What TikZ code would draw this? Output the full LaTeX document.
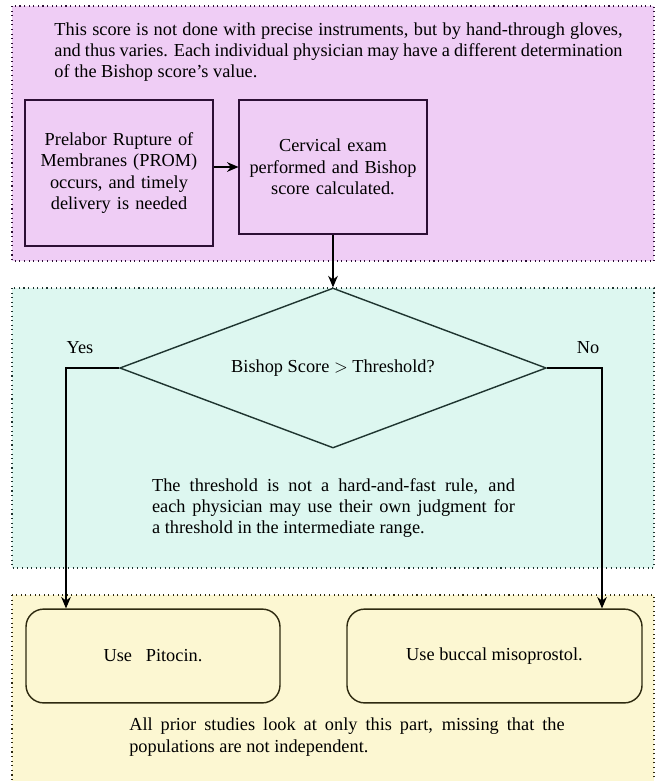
\documentclass[tikz,border=0pt]{standalone}
\usepackage{fontspec}
\setmainfont{Liberation Serif}
\usetikzlibrary{arrows.meta,shapes.geometric}
\definecolor{promlilac}{RGB}{239,205,245}
\definecolor{promplum}{RGB}{45,15,53}
\definecolor{bishopmint}{RGB}{221,247,240}
\definecolor{bishopteal}{RGB}{31,53,48}
\definecolor{drugcream}{RGB}{252,247,210}
\definecolor{drugolive}{RGB}{46,42,16}
\hyphenpenalty=10000

\begin{document}
\begin{tikzpicture}[x=0.565pt, y=-0.565pt,
  every node/.style={font=\fontsize{10.35}{12}\selectfont},
  region/.style={dotted, semithick},
  note/.style={inner sep=0pt, align=justify},
  stepbox/.style={draw=promplum, thick, fill=promlilac, text width=95pt,
    align=center, minimum width=106pt, inner sep=0pt},
  drugbox/.style={draw=drugolive, thick, fill=drugcream, rounded corners=10pt,
    minimum height=53pt, align=center},
  flow/.style={-{Stealth[length=6.5pt,width=5.5pt]}, semithick}]
\useasboundingbox (0,0) rectangle (657,781);
% Stage 1: PROM and cervical exam
\fill[promlilac] (12,6) rectangle (654,261);
\draw[promplum, region] (12,6) rectangle (654,261);
\node[note, text width=321pt] (gloves) at (338.5,52)
  {This score is not done with precise instruments, but by hand-through gloves,
   and thus varies. Each individual physician may have a different determination
   of the Bishop score's value.};
\node[stepbox, minimum height=82.5pt] (prom) at (119,173)
  {Prelabor Rupture of Membranes (PROM) occurs, and timely delivery is needed};
\node[stepbox, minimum height=75.7pt] (exam) at (333,167)
  {Cervical exam performed and Bishop score calculated.};
% Stage 2: threshold decision
\fill[bishopmint] (12,288) rectangle (654,568);
\draw[bishopteal, region] (12,288) rectangle (654,568);
\node[diamond, draw=bishopteal, thick, fill=bishopmint, inner sep=0pt, aspect=2.67,
      minimum width=241pt, minimum height=90.4pt] (check) at (333,368)
  {Bishop Score $>$ Threshold?};
\node (yes) at (80,348) {Yes};
\node (no) at (588,348) {No};
\node[note, text width=205pt] (judgment) at (333.5,508)
  {The threshold is not a hard-and-fast rule, and each physician may use their
   own judgment for a threshold in the intermediate range.};
% Stage 3: drug choice
\fill[drugcream] (12,595) rectangle (654,800);
\draw[drugolive, region] (12,595) rectangle (654,800);
\node[drugbox, minimum width=143.5pt] (pitocin) at (153,656) {Use~~~Pitocin.};
\node[drugbox, minimum width=166.7pt] (miso) at (494.5,656) {Use buccal misoprostol.};
\node[note, text width=246pt] (studies) at (347,737)
  {All prior studies look at only this part, missing that the populations are
   not independent.};
% Connectors
\coordinate (ylane) at (66,368);
\coordinate (nlane) at (602,368);
\draw[flow] (prom.east |- exam.west) -- (exam.west);
\draw[flow] (exam.south) -- (check.north);
\draw[flow] (check.west) -- (ylane) -- (ylane |- pitocin.north);
\draw[flow] (check.east) -- (nlane) -- (nlane |- miso.north);
\end{tikzpicture}
\end{document}
